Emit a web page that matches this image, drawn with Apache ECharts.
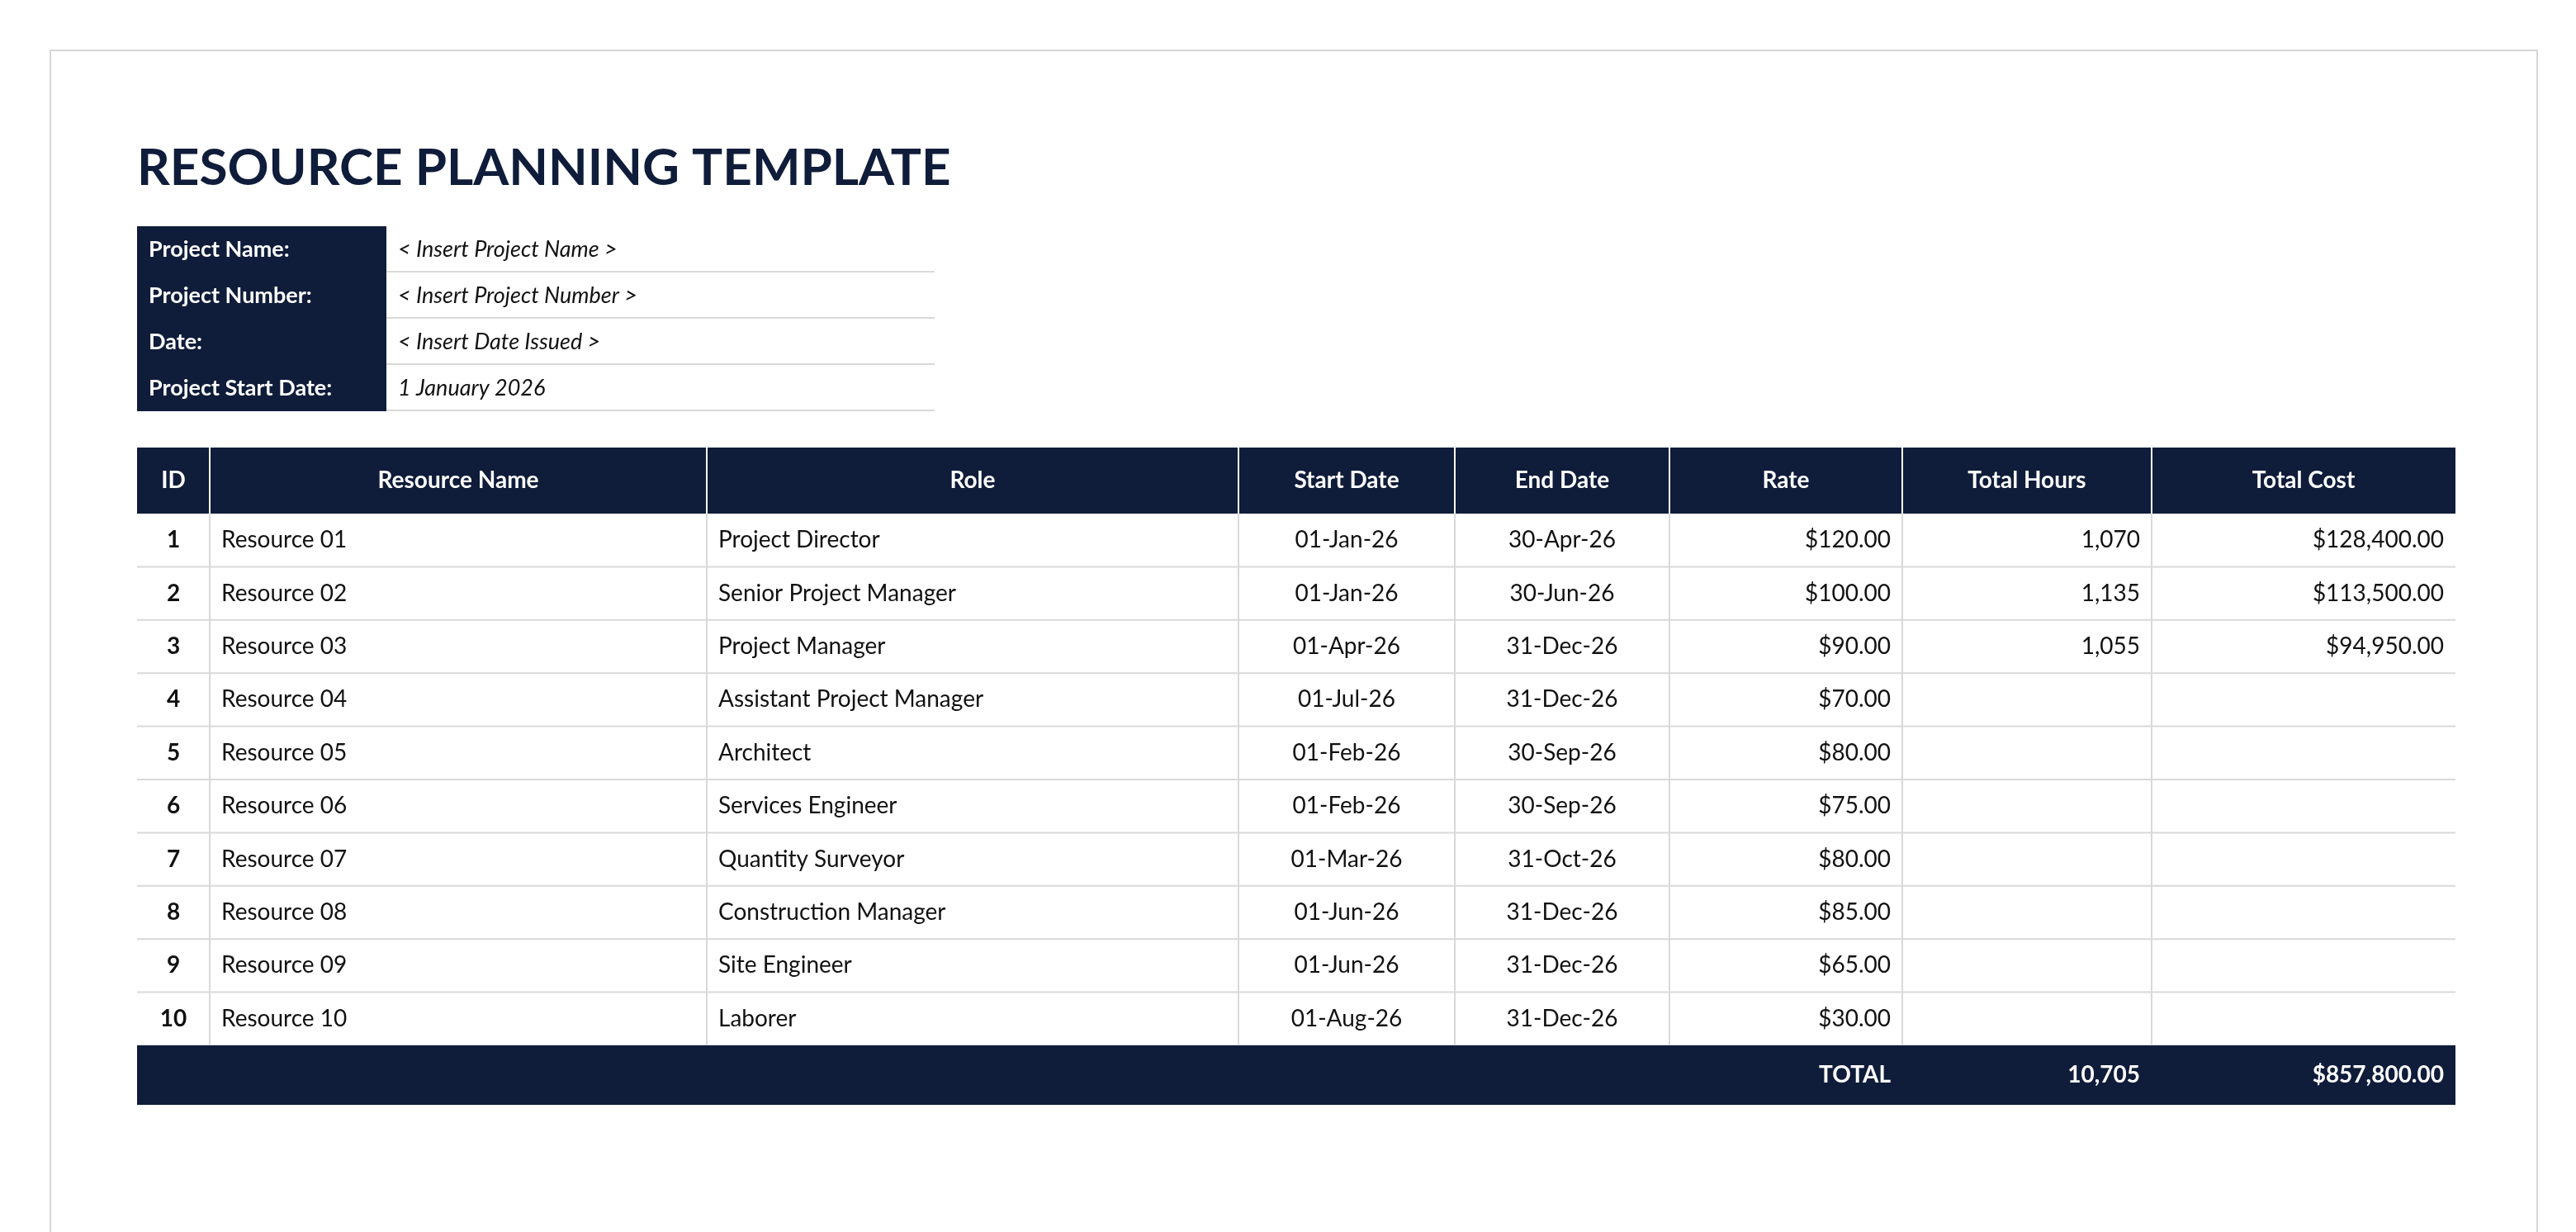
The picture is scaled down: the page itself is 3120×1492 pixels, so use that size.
<!DOCTYPE html>
<html><head><meta charset="utf-8">
<script src="https://cdn.jsdelivr.net/npm/echarts@6/dist/echarts.min.js"></script>
<style>html,body{margin:0;padding:0;background:#fff}#Chart{width:3120px;height:1492px}</style>
</head><body><div id="Chart"></div>
<script>
var titleText="RESOURCE PLANNING TEMPLATE"
var infoLabels=["Project Name:","Project Number:","Date:","Project Start Date:"]
var infoValues=["< Insert Project Name >","< Insert Project Number >","< Insert Date Issued >","1 January 2026"]
var headers=["ID","Resource Name","Role","Start Date","End Date","Rate","Total Hours","Total Cost"]
var ids=[1,2,3,4,5,6,7,8,9,10]
var names=["Resource 01","Resource 02","Resource 03","Resource 04","Resource 05","Resource 06","Resource 07","Resource 08","Resource 09","Resource 10"]
var roles=["Project Director","Senior Project Manager","Project Manager","Assistant Project Manager","Architect","Services Engineer","Quantity Surveyor","Construction Manager","Site Engineer","Laborer"]
var startDates=["01-Jan-26","01-Jan-26","01-Apr-26","01-Jul-26","01-Feb-26","01-Feb-26","01-Mar-26","01-Jun-26","01-Jun-26","01-Aug-26"]
var endDates=["30-Apr-26","30-Jun-26","31-Dec-26","31-Dec-26","30-Sep-26","30-Sep-26","31-Oct-26","31-Dec-26","31-Dec-26","31-Dec-26"]
var rates=[120,100,90,70,80,75,80,85,65,30]
var hours=[1070,1135,1055,null,null,null,null,null,null,null]
var totalHours=10705
var totalCost=857800

var navy="#0f1c3a",grid="#d9d9d9",font="Lato"
var colX=[166,254,856,1500,1762,2022,2304,2606,2974]
var aligns=["center","left","left","center","center","right","right","right"]

function money(v){return "$"+v.toLocaleString("en-US",{minimumFractionDigits:2,maximumFractionDigits:2})}
function num(v){return v.toLocaleString("en-US")}

function cellText(ci,y,h,txt,color,bold){
	var a=aligns[ci],x
	if(a=="left") x=colX[ci]+14
	else if(a=="right") x=colX[ci+1]-14
	else x=(colX[ci]+colX[ci+1])/2
	return {type:'text',x:x,y:y+h/2,style:{text:txt,fill:color,font:(bold?"bold ":"")+"28px "+font,align:a,verticalAlign:'middle'}}
}

var els=[]
//外框
els.push({type:'rect',shape:{x:61,y:61,width:3012,height:1500},style:{fill:'#fff',stroke:'#d6d6d6',lineWidth:2}})
els.push({type:'text',x:166,y:204,style:{text:titleText,fill:navy,font:"bold 62px "+font,verticalAlign:'middle'}})

//项目信息
$info=null
for(var i=0;i<infoLabels.length;i++){
	var y=274+i*56
	els.push({type:'rect',shape:{x:166,y:y,width:302,height:56},style:{fill:navy}})
	els.push({type:'text',x:180,y:y+28,style:{text:infoLabels[i],fill:'#fff',font:"bold 27px "+font,verticalAlign:'middle'}})
	els.push({type:'text',x:482,y:y+28,style:{text:infoValues[i],fill:'#111',font:"italic 27px "+font,verticalAlign:'middle'}})
	els.push({type:'line',shape:{x1:468,y1:y+55,x2:1132,y2:y+55},style:{stroke:grid,lineWidth:2}})
}

//表头
var hy=542,hh=80
els.push({type:'rect',shape:{x:colX[0],y:hy,width:colX[8]-colX[0],height:hh},style:{fill:navy}})
for(var c=0;c<headers.length;c++){
	var x=(colX[c]+colX[c+1])/2
	els.push({type:'text',x:x,y:hy+hh/2,style:{text:headers[c],fill:'#fff',font:"bold 28px "+font,align:'center',verticalAlign:'middle'}})
	if(c>0) els.push({type:'line',shape:{x1:colX[c],y1:hy,x2:colX[c],y2:hy+hh},style:{stroke:'#fff',lineWidth:2}})
}

//数据行
var ry=622,rh=64.4
for(var r=0;r<ids.length;r++){
	var y=ry+r*rh
	var vals=[String(ids[r]),names[r],roles[r],startDates[r],endDates[r],money(rates[r]),
		hours[r]!=null?num(hours[r]):"",hours[r]!=null?money(hours[r]*rates[r]):""]
	for(var c=0;c<vals.length;c++){
		if(vals[c]!=="") els.push(cellText(c,y,rh,vals[c],'#111',c==0))
	}
	els.push({type:'line',shape:{x1:colX[0],y1:y+rh,x2:colX[8],y2:y+rh},style:{stroke:grid,lineWidth:2}})
}
for(var c=1;c<8;c++){
	els.push({type:'line',shape:{x1:colX[c],y1:ry,x2:colX[c],y2:ry+rh*ids.length},style:{stroke:grid,lineWidth:2}})
}

//合计
var ty=ry+rh*ids.length,th=72
els.push({type:'rect',shape:{x:colX[0],y:ty,width:colX[8]-colX[0],height:th},style:{fill:navy}})
els.push(cellText(5,ty,th,"TOTAL",'#fff',true))
els.push(cellText(6,ty,th,num(totalHours),'#fff',true))
els.push(cellText(7,ty,th,money(totalCost),'#fff',true))

var myChart=echarts.init(document.getElementById('Chart'))
myChart.setOption({animation:false,graphic:{elements:els}})
</script>
</body></html>
